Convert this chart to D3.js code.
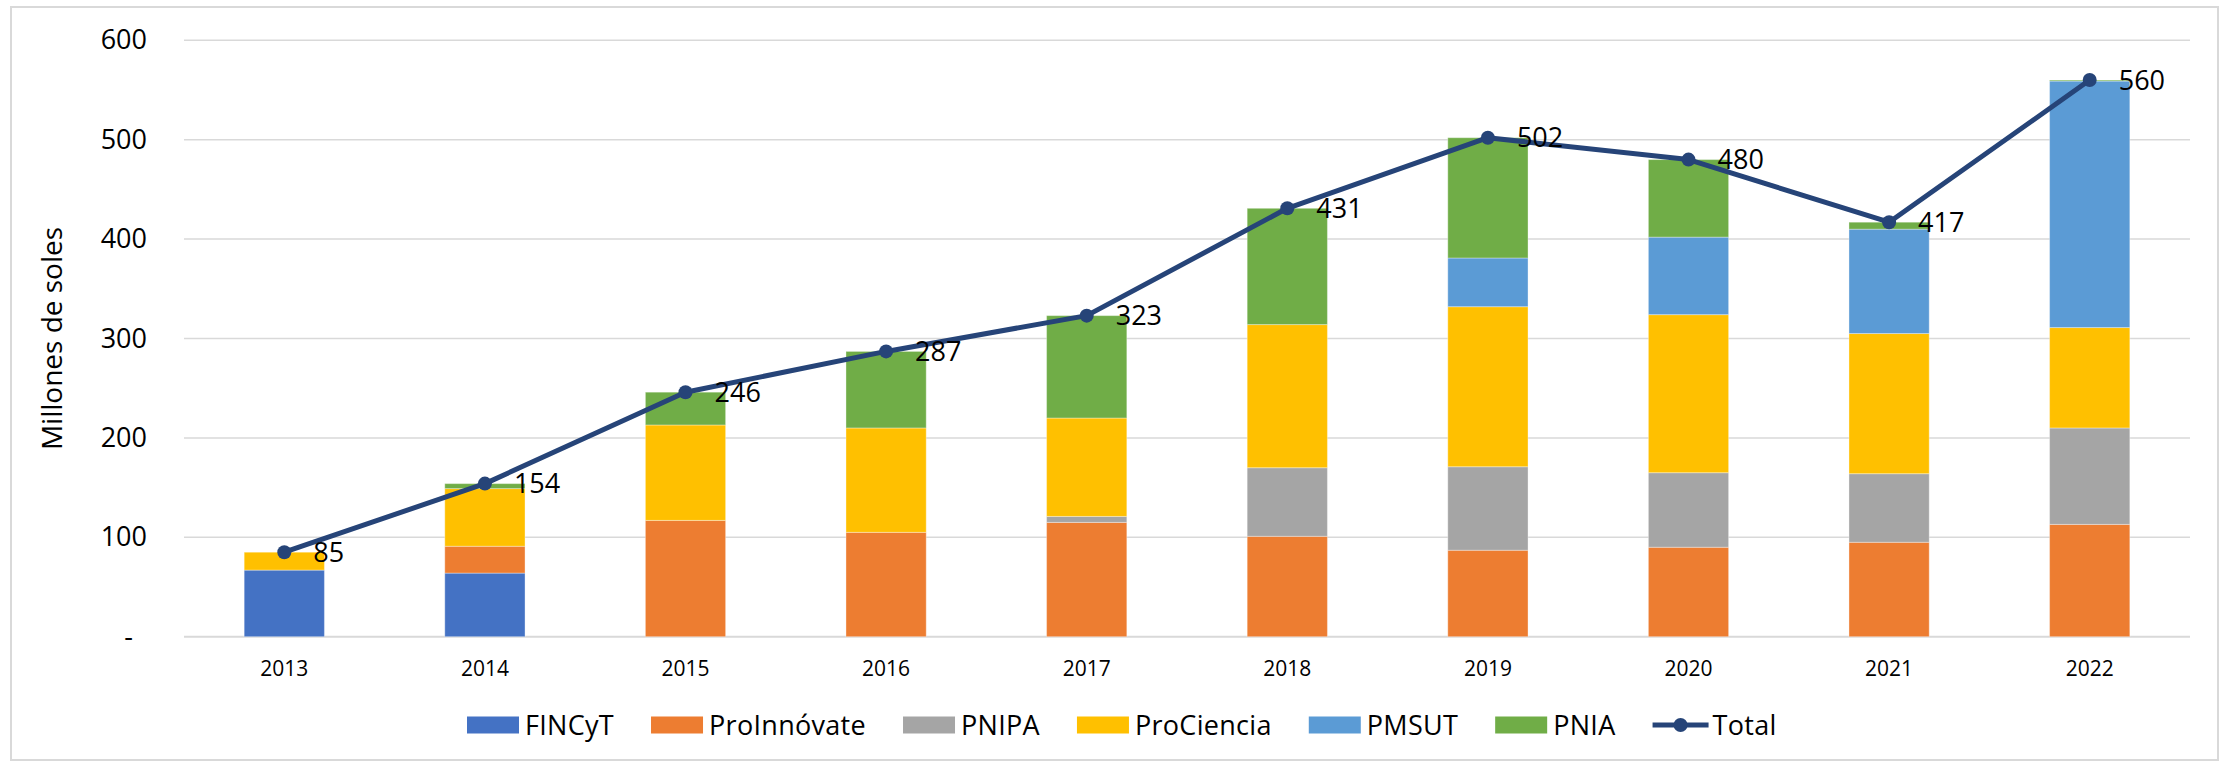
<!DOCTYPE html>
<html>
<head>
<meta charset="utf-8">
<script src="https://cdn.jsdelivr.net/npm/d3@7"></script>
<style>
  body { margin: 0; background: #fff; }
  svg text { font-family: "Open Sans", sans-serif; fill: #000; }
</style>
</head>
<body>
<div class="chart"></div>
<script>
// data
var years = ["2013", "2014", "2015", "2016", "2017", "2018", "2019", "2020", "2021", "2022"];
var fincyt      = [67, 64, 0, 0, 0, 0, 0, 0, 0, 0];
var proinnovate = [0, 27, 117, 105, 115, 101, 87, 90, 95, 113];
var pnipa       = [0, 0, 0, 0, 6, 69, 84, 75, 69, 97];
var prociencia  = [18, 58, 96, 105, 99, 144, 161, 159, 141, 101];
var pmsut       = [0, 0, 0, 0, 0, 0, 49, 78, 105, 248];
var pnia        = [0, 5, 33, 77, 103, 117, 121, 78, 7, 1];
var totals      = [85, 154, 246, 287, 323, 431, 502, 480, 417, 560];
var yTicks = [0, 100, 200, 300, 400, 500, 600];

var seriesNames = ["FINCyT", "ProInnóvate", "PNIPA", "ProCiencia", "PMSUT", "PNIA"];
var seriesValues = [fincyt, proinnovate, pnipa, prociencia, pmsut, pnia];
var colors = ["#4472C4", "#ED7D31", "#A5A5A5", "#FFC000", "#5B9BD5", "#70AD47"];
var lineColor = "#264478";

var svgWidth = 2224, svgHeight = 763;
var margin = { top: 40.3, right: 34, bottom: 126.3, left: 184 };
var chartWidth = svgWidth - margin.left - margin.right;
var chartHeight = svgHeight - margin.top - margin.bottom;

var svg = d3.select(".chart").append("svg")
  .attr("width", svgWidth)
  .attr("height", svgHeight);

// outer frame
svg.append("rect")
  .attr("x", 11).attr("y", 7)
  .attr("width", 2207).attr("height", 753)
  .attr("fill", "none")
  .attr("stroke", "#D9D9D9")
  .attr("stroke-width", 2);

var chartGroup = svg.append("g")
  .attr("transform", `translate(${margin.left}, ${margin.top})`);

// build stacked table
var table = years.map(function (y, i) {
  var row = { year: y };
  seriesNames.forEach(function (s, j) { row[s] = seriesValues[j][i]; });
  return row;
});
var stacked = d3.stack().keys(seriesNames)(table);

var xScale = d3.scaleBand()
  .domain(years)
  .range([0, chartWidth])
  .paddingInner(0.6)
  .paddingOuter(0.3);

var yScale = d3.scaleLinear()
  .domain([0, 600])
  .range([chartHeight, 0]);

// gridlines
chartGroup.append("g")
  .selectAll("line")
  .data(yTicks)
  .enter()
  .append("line")
  .attr("x1", 0)
  .attr("x2", chartWidth)
  .attr("y1", d => yScale(d))
  .attr("y2", d => yScale(d))
  .attr("stroke", "#D9D9D9")
  .attr("stroke-width", d => d === 0 ? 2 : 1.5);

// y axis labels
var yAxis = d3.axisLeft(yScale)
  .tickValues(yTicks)
  .tickSize(0)
  .tickPadding(37)
  .tickFormat(d => d === 0 ? "-" : d);
var yAxisG = chartGroup.append("g").call(yAxis);
yAxisG.select(".domain").remove();
yAxisG.selectAll("text")
  .style("font-size", "27px")
  .attr("dx", d => d === 0 ? -14 : 0);

// x axis labels
var xAxis = d3.axisBottom(xScale).tickSize(0).tickPadding(24);
var xAxisG = chartGroup.append("g")
  .attr("transform", `translate(0, ${chartHeight})`)
  .call(xAxis);
xAxisG.select(".domain").remove();
xAxisG.selectAll("text").style("font-size", "21px");

// stacked bars
chartGroup.append("g")
  .selectAll("g")
  .data(stacked)
  .enter()
  .append("g")
  .attr("fill", (d, i) => colors[i])
  .selectAll("rect")
  .data(d => d)
  .enter()
  .append("rect")
  .attr("x", d => xScale(d.data.year))
  .attr("width", xScale.bandwidth())
  .attr("y", d => yScale(d[1]))
  .attr("height", d => yScale(d[0]) - yScale(d[1]))
  .attr("stroke", "#fff")
  .attr("stroke-opacity", d => d[1] > d[0] ? 0.35 : 0)
  .attr("stroke-width", 1);

// total line
var line = d3.line()
  .x((d, i) => xScale(years[i]) + xScale.bandwidth() / 2)
  .y(d => yScale(d));

chartGroup.append("path")
  .datum(totals)
  .attr("d", line)
  .attr("fill", "none")
  .attr("stroke", lineColor)
  .attr("stroke-width", 5)
  .attr("stroke-linejoin", "round");

chartGroup.append("g")
  .selectAll("circle")
  .data(totals)
  .enter()
  .append("circle")
  .attr("cx", (d, i) => xScale(years[i]) + xScale.bandwidth() / 2)
  .attr("cy", d => yScale(d))
  .attr("r", 7)
  .attr("fill", lineColor);

chartGroup.append("g")
  .selectAll("text")
  .data(totals)
  .enter()
  .append("text")
  .attr("x", (d, i) => xScale(years[i]) + xScale.bandwidth() / 2 + 29)
  .attr("y", d => yScale(d))
  .attr("dy", "0.36em")
  .style("font-size", "27px")
  .text(d => d);

// y title
svg.append("text")
  .attr("transform", "rotate(-90)")
  .attr("x", -(margin.top + chartHeight / 2))
  .attr("y", 62)
  .attr("text-anchor", "middle")
  .style("font-size", "28px")
  .text("Millones de soles");

// legend
var legend = svg.append("g");
var lx = 467, ly = 725;
seriesNames.forEach(function (name, i) {
  legend.append("rect")
    .attr("x", lx).attr("y", ly - 8.5)
    .attr("width", 52).attr("height", 17)
    .attr("fill", colors[i]);
  var t = legend.append("text")
    .attr("x", lx + 58).attr("y", ly)
    .attr("dy", "0.36em")
    .style("font-size", "27px")
    .style("letter-spacing", "0.3px")
    .text(name);
  lx = lx + 58 + t.node().getComputedTextLength() + 37;
});
legend.append("line")
  .attr("x1", lx).attr("x2", lx + 56)
  .attr("y1", ly).attr("y2", ly)
  .attr("stroke", lineColor)
  .attr("stroke-width", 5);
legend.append("circle")
  .attr("cx", lx + 28).attr("cy", ly)
  .attr("r", 7)
  .attr("fill", lineColor);
legend.append("text")
  .attr("x", lx + 60).attr("y", ly)
  .attr("dy", "0.36em")
  .style("font-size", "27px")
  .style("letter-spacing", "0.3px")
  .text("Total");
</script>
</body>
</html>
